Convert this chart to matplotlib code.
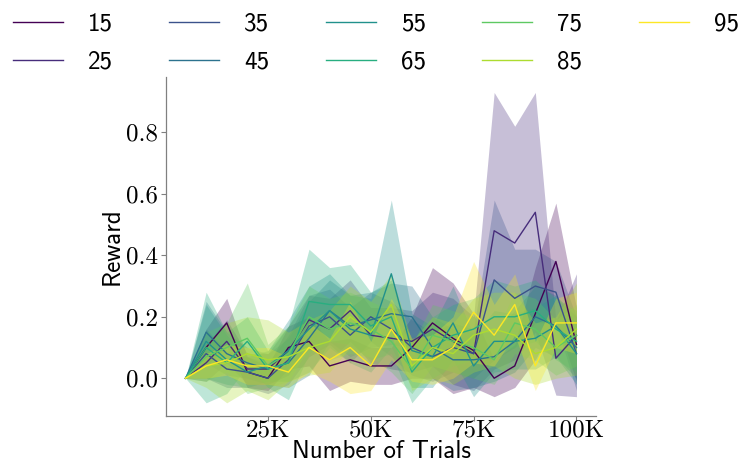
import numpy as np
import matplotlib
matplotlib.use("Agg")
import matplotlib.pyplot as plt

# number of trials (thousands)
trials_k = [5, 10, 15, 20, 25, 30, 35, 40, 45, 50, 55, 60, 65, 70, 75, 80, 85, 90, 95, 100]

mean_15 = [0, 0.10, 0.18, 0.02, 0.00, 0.10, 0.12, 0.04, 0.06, 0.04, 0.04, 0.10, 0.18, 0.13, 0.09, 0.00, 0.04, 0.21, 0.38, 0.11]
std_15 = [0, 0.06, 0.08, 0.05, 0.04, 0.07, 0.08, 0.08, 0.07, 0.06, 0.06, 0.10, 0.18, 0.18, 0.12, 0.06, 0.07, 0.15, 0.19, 0.12]
mean_25 = [0, 0.05, 0.12, 0.03, 0.03, 0.09, 0.19, 0.16, 0.22, 0.14, 0.13, 0.12, 0.16, 0.12, 0.08, 0.48, 0.44, 0.54, 0.065, 0.14]
std_25 = [0, 0.06, 0.07, 0.05, 0.05, 0.08, 0.08, 0.10, 0.10, 0.09, 0.10, 0.10, 0.12, 0.14, 0.12, 0.45, 0.38, 0.39, 0.12, 0.20]
mean_35 = [0, 0.08, 0.03, 0.02, 0.00, 0.06, 0.17, 0.20, 0.14, 0.20, 0.16, 0.10, 0.07, 0.10, 0.08, 0.32, 0.26, 0.30, 0.28, 0.08]
std_35 = [0, 0.08, 0.06, 0.05, 0.05, 0.08, 0.10, 0.09, 0.09, 0.08, 0.09, 0.09, 0.08, 0.08, 0.08, 0.26, 0.16, 0.12, 0.10, 0.12]
mean_45 = [0, 0.15, 0.08, 0.05, 0.03, 0.05, 0.13, 0.22, 0.17, 0.19, 0.21, 0.20, 0.10, 0.06, 0.06, 0.07, 0.12, 0.20, 0.17, 0.10]
std_45 = [0, 0.10, 0.07, 0.05, 0.05, 0.08, 0.12, 0.10, 0.10, 0.09, 0.10, 0.10, 0.10, 0.10, 0.09, 0.08, 0.10, 0.10, 0.10, 0.10]
mean_55 = [0, 0.12, 0.06, 0.02, 0.04, 0.09, 0.16, 0.22, 0.16, 0.14, 0.34, 0.09, 0.07, 0.18, 0.04, 0.12, 0.12, 0.13, 0.17, 0.08]
std_55 = [0, 0.12, 0.08, 0.05, 0.05, 0.10, 0.14, 0.12, 0.11, 0.12, 0.24, 0.12, 0.10, 0.12, 0.10, 0.10, 0.09, 0.10, 0.10, 0.10]
mean_65 = [0, 0.10, 0.05, 0.12, 0.03, 0.05, 0.25, 0.24, 0.24, 0.17, 0.20, 0.02, 0.10, 0.14, 0.16, 0.20, 0.20, 0.22, 0.16, 0.12]
std_65 = [0, 0.18, 0.10, 0.08, 0.06, 0.12, 0.17, 0.12, 0.13, 0.11, 0.12, 0.10, 0.10, 0.10, 0.10, 0.12, 0.10, 0.10, 0.10, 0.10]
mean_75 = [0, 0.07, 0.10, 0.13, 0.04, 0.08, 0.20, 0.16, 0.18, 0.16, 0.12, 0.03, 0.14, 0.12, 0.10, 0.06, 0.18, 0.16, 0.10, 0.14]
std_75 = [0, 0.08, 0.08, 0.18, 0.07, 0.09, 0.10, 0.10, 0.10, 0.09, 0.10, 0.08, 0.10, 0.10, 0.10, 0.08, 0.10, 0.10, 0.09, 0.10]
mean_85 = [0, 0.04, 0.05, 0.08, 0.06, 0.07, 0.10, 0.12, 0.20, 0.15, 0.24, 0.04, 0.10, 0.08, 0.14, 0.16, 0.14, 0.08, 0.10, 0.16]
std_85 = [0, 0.07, 0.13, 0.12, 0.13, 0.08, 0.09, 0.10, 0.10, 0.10, 0.10, 0.08, 0.10, 0.10, 0.12, 0.12, 0.14, 0.10, 0.10, 0.15]
mean_95 = [0, 0.04, 0.06, 0.04, 0.04, 0.02, 0.10, 0.06, 0.10, 0.04, 0.16, 0.06, 0.06, 0.10, 0.215, 0.14, 0.24, 0.04, 0.18, 0.18]
std_95 = [0, 0.04, 0.05, 0.06, 0.06, 0.05, 0.08, 0.07, 0.15, 0.08, 0.10, 0.07, 0.08, 0.10, 0.165, 0.10, 0.10, 0.08, 0.08, 0.10]

labels = ["15", "25", "35", "45", "55", "65", "75", "85", "95"]
means = [mean_15, mean_25, mean_35, mean_45, mean_55, mean_65, mean_75, mean_85, mean_95]
stds = [std_15, std_25, std_35, std_45, std_55, std_65, std_75, std_85, std_95]
colors = plt.cm.viridis(np.linspace(0, 1, len(labels)))

fig = plt.figure(figsize=(7.53, 4.76), dpi=100)
ax = fig.add_axes([0.2205, 0.126, 0.571, 0.712])

x = np.array(trials_k) * 1000
for lab, m, s, c in zip(labels, means, stds, colors):
    m = np.array(m)
    s = np.array(s)
    ax.fill_between(x, m - s, m + s, color=c, alpha=0.3, linewidth=0)
    ax.plot(x, m, color=c, linewidth=1.0, label=lab)

ax.set_ylim(-0.123, 0.98)
ax.set_xticks([25000, 50000, 75000, 100000])
ax.set_xticklabels(["25K", "50K", "75K", "100K"], fontfamily="cmr10", fontsize=18)
ax.set_yticks([0.0, 0.2, 0.4, 0.6, 0.8])
ax.set_yticklabels(["0.0", "0.2", "0.4", "0.6", "0.8"], fontfamily="cmr10", fontsize=18)
ax.set_xlabel("Number of Trials", fontfamily="cmss10", fontsize=18, labelpad=-1)
ax.set_ylabel("Reward", fontfamily="cmss10", fontsize=18, labelpad=2)

for side in ["top", "right"]:
    ax.spines[side].set_visible(False)
for side in ["left", "bottom"]:
    ax.spines[side].set_color("0.5")
    ax.spines[side].set_linewidth(0.9)
ax.tick_params(colors="0.5", labelcolor="black", length=3.5, width=0.8, pad=2)
ax.tick_params(axis="x", pad=-1)

fig.legend(loc="upper left", bbox_to_anchor=(0.0, 1.0), ncol=5, frameon=False,
           prop={"family": "cmss10", "size": 18}, columnspacing=2.26,
           handlelength=2.0, handletextpad=1.0, borderaxespad=0.1,
           labelspacing=0.6)

fig.savefig("out.png", dpi=100)
